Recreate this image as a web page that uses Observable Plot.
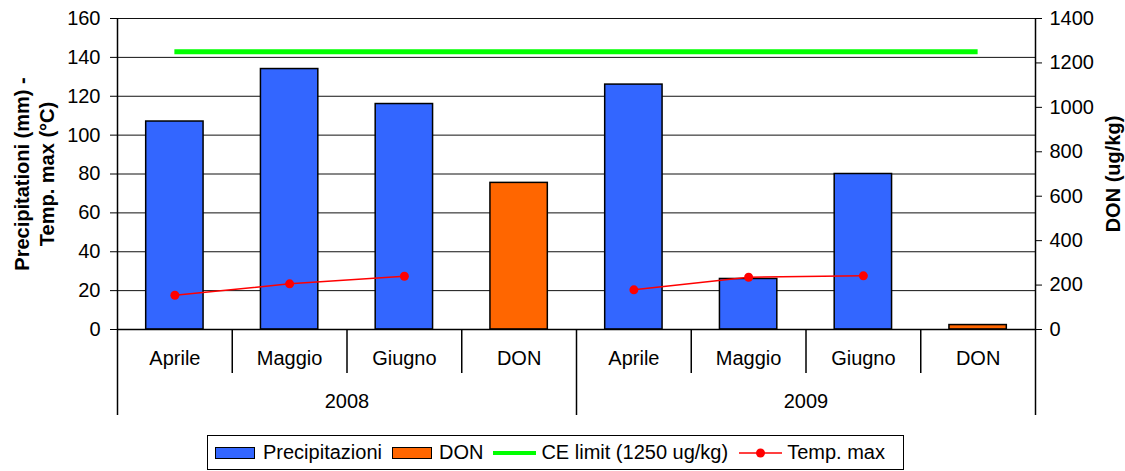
<!DOCTYPE html>
<html>
<head>
<meta charset="utf-8">
<script src="https://cdn.jsdelivr.net/npm/d3@7"></script>
<script src="https://cdn.jsdelivr.net/npm/@observablehq/plot@0.6"></script>
<style>
  html, body { margin: 0; padding: 0; background: #fff; }
  body { width: 1125px; height: 471px; overflow: hidden; font-family: "Liberation Sans", Arial, sans-serif; }
  #chart svg { display: block; }
  .legend {
    position: absolute; left: 207px; top: 435px; width: 697px; height: 35px;
    box-sizing: border-box; border: 1.5px solid #000;
    display: flex; align-items: center; padding-left: 7px;
    font-size: 20px; color: #000; white-space: nowrap;
  }
  .legend .sw { width: 40px; height: 12px; box-sizing: border-box; border: 1.5px solid #000; }
  .legend .ln { width: 43px; height: 4px; }
  .legend svg { display: block; }
</style>
</head>
<body>
<div id="chart"></div>
<div class="legend">
  <div class="sw" style="background:#3366ff"></div>
  <span style="margin-left:8px">Precipitazioni</span>
  <div class="sw" style="background:#ff6600;margin-left:10px"></div>
  <span style="margin-left:7px">DON</span>
  <div class="ln" style="background:#00ff00;margin-left:10px"></div>
  <span style="margin-left:5px">CE limit (1250 ug/kg)</span>
  <svg width="43" height="12" style="margin-left:11px"><line x1="0" x2="43" y1="6" y2="6" stroke="#ff0000" stroke-width="1.5"/><circle cx="21.5" cy="6" r="4.5" fill="#ff0000"/></svg>
  <span style="margin-left:5px">Temp. max</span>
</div>
<script>
// Categories along the x axis, grouped by year
const years = ["2008", "2009"];
const months = ["Aprile", "Maggio", "Giugno"];
const groupLabels = ["Aprile", "Maggio", "Giugno", "DON"];

// Monthly rainfall (mm), per year
const precip2008 = [107, 134, 116];
const precip2009 = [126, 26, 80];

// Maximum temperature (°C), per year
const temp2008 = [17.6, 23.5, 27.4];
const temp2009 = [20.4, 26.9, 27.6];

// Deoxynivalenol content (ug/kg), per year
const donValues = [660, 20];

// EU limit for DON (ug/kg)
const ceLimit = 1250;

// Axis ticks
const leftTicks = [0, 20, 40, 60, 80, 100, 120, 140, 160];
const rightTicks = [0, 200, 400, 600, 800, 1000, 1200, 1400];

// DON is read on the right axis (0–1400) sharing the left scale (0–160)
const leftMax = 160, rightMax = 1400;
const toLeft = v => v * leftMax / rightMax;

const perYear = groupLabels.length;
const slots = years.flatMap((year, yi) =>
  groupLabels.map((label, gi) => ({year, label, i: yi * perYear + gi})));

const precipRows = years.flatMap((year, yi) =>
  months.map((m, mi) => ({year, i: yi * perYear + mi, v: [precip2008, precip2009][yi][mi]})));
const tempRows = years.flatMap((year, yi) =>
  months.map((m, mi) => ({year, i: yi * perYear + mi, t: [temp2008, temp2009][yi][mi]})));
const donRows = years.map((year, yi) => ({year, i: yi * perYear + 3, v: donValues[yi]}));

const slotEdges = d3.range(0, slots.length + 1);
const yearEdges = slotEdges.filter(e => e % perYear === 0);
const monthEdges = slotEdges.filter(e => e % perYear !== 0);
const yearCenters = years.map((year, yi) => ({year, c: yi * perYear + perYear / 2}));

const chart = Plot.plot({
  width: 1125,
  height: 428,
  marginLeft: 117,
  marginRight: 90,
  marginTop: 18,
  marginBottom: 99,
  style: {fontFamily: "'Liberation Sans', Arial, sans-serif", fontSize: "20px", color: "#000", background: "#fff"},
  x: {domain: [0, slots.length], axis: null},
  y: {domain: [0, leftMax], axis: null},
  marks: [
    Plot.gridY(leftTicks, {stroke: "#111", strokeOpacity: 1, strokeWidth: 1}),
    Plot.axisY({anchor: "left", ticks: leftTicks, tickSize: 7, tickPadding: 10, label: null, fontSize: 20}),
    Plot.axisY({anchor: "right", ticks: rightTicks.map(toLeft), tickFormat: d => String(Math.round(d * rightMax / leftMax)),
      tickSize: 6, tickPadding: 8, label: null, fontSize: 20}),
    // precipitation bars
    Plot.rectY(precipRows, {x1: d => d.i + 0.25, x2: d => d.i + 0.75, y: "v", fill: "#3366ff", stroke: "#000", strokeWidth: 1.5}),
    // DON bars, on the right-hand scale
    Plot.rectY(donRows, {x1: d => d.i + 0.25, x2: d => d.i + 0.75, y: d => toLeft(d.v), fill: "#ff6600", stroke: "#000", strokeWidth: 1.5}),
    // EU limit line across the categories
    Plot.ruleY([ceLimit], {y: d => toLeft(d), x1: 0.5, x2: slots.length - 0.5, stroke: "#00ff00", strokeWidth: 5}),
    // max temperature
    Plot.line(tempRows, {x: d => d.i + 0.5, y: "t", z: "year", stroke: "#ff0000", strokeWidth: 1.5}),
    Plot.dot(tempRows, {x: d => d.i + 0.5, y: "t", r: 4.5, fill: "#ff0000"}),
    // axis lines
    Plot.ruleX([0, slots.length], {stroke: "#000", strokeWidth: 1.5}),
    Plot.ruleY([0], {stroke: "#000", strokeWidth: 1.5}),
    // two-level category axis
    Plot.ruleX(monthEdges, {y1: 0, y2: 0, insetBottom: -44, stroke: "#000", strokeWidth: 1.5}),
    Plot.ruleX(yearEdges, {y1: 0, y2: 0, insetBottom: -86, stroke: "#000", strokeWidth: 1.5}),
    Plot.text(slots, {x: d => d.i + 0.5, text: "label", frameAnchor: "bottom", dy: 35, fontSize: 20, fill: "#000"}),
    Plot.text(yearCenters, {x: "c", text: "year", frameAnchor: "bottom", dy: 78, fontSize: 20, fill: "#000"}),
    // axis titles
    Plot.text(["Precipitationi (mm) -"], {frameAnchor: "left", textAnchor: "middle", dx: -95, rotate: -90, fontWeight: "bold", fontSize: 20, fill: "#000"}),
    Plot.text(["Temp. max (°C)"], {frameAnchor: "left", textAnchor: "middle", dx: -70, rotate: -90, fontWeight: "bold", fontSize: 20, fill: "#000"}),
    Plot.text(["DON (ug/kg)"], {frameAnchor: "right", textAnchor: "middle", dx: 78, rotate: -90, fontWeight: "bold", fontSize: 20, fill: "#000"})
  ]
});
document.getElementById("chart").appendChild(chart);
</script>
</body>
</html>
